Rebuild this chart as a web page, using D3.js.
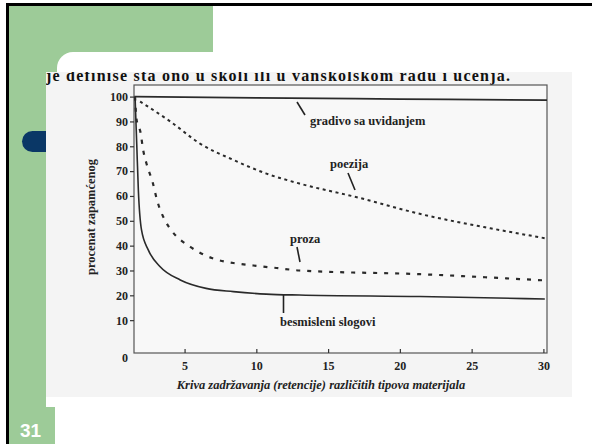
<!DOCTYPE html>
<html>
<head>
<meta charset="utf-8">
<script src="https://cdn.jsdelivr.net/npm/d3@7"></script>
<style>
  body { margin: 0; background: #fff; }
  svg { display: block; }
  .tick text { font-family: 'Liberation Serif', serif; font-weight: bold; font-size: 12px; fill: #222; }
  .lbl { font-family: 'Liberation Serif', serif; font-weight: bold; font-size: 12.5px; fill: #222; }
</style>
</head>
<body>
<svg id="chart" width="592" height="444"></svg>
<script>
// krive zadrzavanja, procitano sa slike (x = vreme, y = procenat)
const gradivoX = [1.5, 10, 20, 30.25]
const gradivoY = [100, 99.5, 99, 98.6]

const poezijaX = [1.9, 4, 6.1, 8.4, 10.7, 13, 17, 21.6, 26.3, 30.1]
const poezijaY = [98, 90, 81, 74.5, 69, 65, 59.5, 52.5, 47, 43]

const prozaX = [1.55, 1.65, 1.95, 2.1, 2.35, 2.8, 3.05, 3.65, 4.1, 5.4, 6.9, 8.4, 9.8, 11.4, 13, 21.4, 30.1]
const prozaY = [100, 91, 85, 79, 73, 65, 59, 50, 46, 39.5, 35, 33, 32, 31, 30, 28.5, 26]

const slogoviX = [1.55, 1.67, 1.78, 2.0, 2.47, 3.3, 4.7, 6.5, 8.4, 10.7, 13, 21.4, 30.1]
const slogoviY = [100, 80.5, 62.4, 46.3, 38.3, 31.5, 26.2, 22.8, 21.5, 20.5, 20.1, 19.5, 18.5]

const xTicks = [5, 10, 15, 20, 25, 30]
const yTicks = [0, 10, 20, 30, 40, 50, 60, 70, 80, 90, 100]

const topLine = 'je definiše šta ono u školi ili u vanškolskom radu i učenja.'

const svg = d3.select('#chart')

// slajd: okvir, zelene povrsine, bela kartica
svg.append('rect').attr('x', 9).attr('y', 5).attr('width', 204).attr('height', 100).attr('fill', '#9dcb98')
svg.append('rect').attr('x', 9).attr('y', 5).attr('width', 37).attr('height', 402).attr('fill', '#9dcb98')
svg.append('rect').attr('x', 9).attr('y', 407).attr('width', 46).attr('height', 37).attr('fill', '#9dcb98')
svg.append('rect').attr('x', 57).attr('y', 52).attr('width', 560).attr('height', 420).attr('rx', 16).attr('fill', '#fff')
svg.append('rect').attr('x', 22).attr('y', 131).attr('width', 40).attr('height', 21).attr('rx', 10.5).attr('fill', '#0a3766')
svg.append('line').attr('x1', 7.5).attr('x2', 7.5).attr('y1', 3).attr('y2', 444).attr('stroke', '#000').attr('stroke-width', 3)
svg.append('line').attr('x1', 6).attr('x2', 592).attr('y1', 4.5).attr('y2', 4.5).attr('stroke', '#000').attr('stroke-width', 3)
svg.append('text').attr('x', 20).attr('y', 437)
  .attr('font-family', 'Liberation Sans, Arial, sans-serif').attr('font-weight', 'bold')
  .attr('font-size', 19).attr('fill', '#fff').text('31')

// skenirana slika
svg.append('clipPath').attr('id', 'scan').append('rect')
  .attr('x', 46).attr('y', 72).attr('width', 526).attr('height', 325)
const scan = svg.append('g').attr('clip-path', 'url(#scan)')
scan.append('rect').attr('x', 46).attr('y', 72).attr('width', 526).attr('height', 325).attr('fill', '#f4f4f4')

scan.append('text').attr('x', 46).attr('y', 81)
  .attr('font-family', 'Liberation Serif, serif').attr('font-size', 16).attr('font-weight', 'bold')
  .attr('fill', '#111').attr('textLength', 464).text(topLine)

// grafikon
const fLeft = 134, fRight = 547, fTop = 85, fBottom = 353
const x = d3.scaleLinear().domain([0, 30]).range([112.8, 543.4])
const y = d3.scaleLinear().domain([0, 100]).range([345, 96.6])

scan.append('rect').attr('x', fLeft).attr('y', fTop).attr('width', fRight - fLeft).attr('height', fBottom - fTop)
  .attr('fill', '#f8f8f8').attr('stroke', '#555').attr('stroke-width', 1.2)

const yAxis = scan.append('g').attr('transform', `translate(${fLeft},0)`)
  .call(d3.axisLeft(y).tickValues(yTicks).tickSize(4).tickPadding(2).tickFormat(d3.format('d')))
yAxis.select('.domain').remove()
yAxis.selectAll('line').attr('stroke', '#333').attr('stroke-width', 1.2)
const zeroTick = yAxis.selectAll('.tick').filter(d => d === 0)
zeroTick.select('line').remove()
zeroTick.select('text').attr('y', 13)

const xAxis = scan.append('g').attr('transform', `translate(0,${fBottom})`)
  .call(d3.axisBottom(x).tickValues(xTicks).tickSize(-4).tickPadding(8))
xAxis.select('.domain').remove()
xAxis.selectAll('line').attr('stroke', '#333').attr('stroke-width', 1.2)

const line = d3.line().x(d => x(d[0])).y(d => y(d[1])).curve(d3.curveMonotoneX)
const series = [
  { xs: gradivoX, ys: gradivoY, dash: null, w: 1.8 },
  { xs: poezijaX, ys: poezijaY, dash: '3,3.6', w: 2 },
  { xs: prozaX, ys: prozaY, dash: '4,7', w: 2.2 },
  { xs: slogoviX, ys: slogoviY, dash: null, w: 1.6 }
]
series.forEach(s => {
  scan.append('path')
    .datum(s.xs.map((v, i) => [v, s.ys[i]]))
    .attr('d', line)
    .attr('fill', 'none')
    .attr('stroke', '#2a2a2a')
    .attr('stroke-width', s.w)
    .attr('stroke-dasharray', s.dash)
})

// oznake krivih
const labels = [
  { t: 'gradivo sa uvidanjem', x: 310, y: 125, p: [297, 102, 305, 115] },
  { t: 'poezija', x: 330, y: 168, p: [348, 173, 355, 190] },
  { t: 'proza', x: 290, y: 243, p: [297, 247, 300, 262] },
  { t: 'besmisleni slogovi', x: 280, y: 326, p: [283.5, 295, 283.5, 313] }
]
labels.forEach(l => {
  scan.append('text').attr('class', 'lbl').attr('x', l.x).attr('y', l.y).text(l.t)
  scan.append('line').attr('x1', l.p[0]).attr('y1', l.p[1]).attr('x2', l.p[2]).attr('y2', l.p[3])
    .attr('stroke', '#222').attr('stroke-width', 1.6)
})

scan.append('text').attr('class', 'lbl')
  .attr('transform', 'translate(95,217) rotate(-90)').attr('text-anchor', 'middle')
  .text('procenat zapamćenog')

scan.append('text').attr('class', 'lbl').attr('font-style', 'italic')
  .attr('x', 321).attr('y', 389).attr('text-anchor', 'middle')
  .text('Kriva zadržavanja (retencije) različitih tipova materijala')
</script>
</body>
</html>
